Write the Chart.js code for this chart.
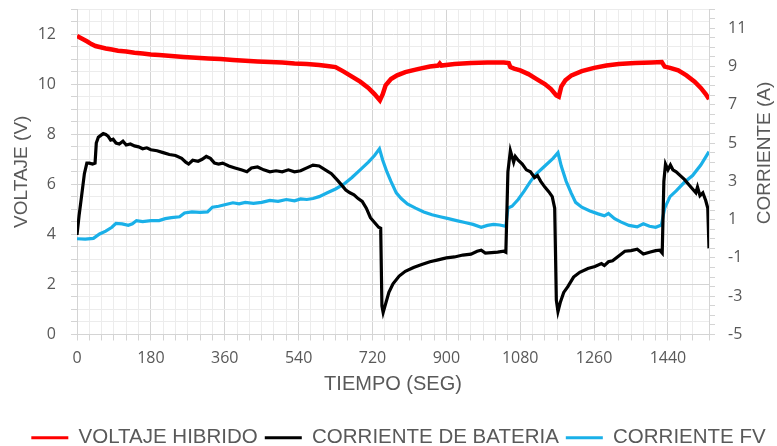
<!DOCTYPE html>
<html>
<head>
<meta charset="utf-8">
<script src="https://cdn.jsdelivr.net/npm/chart.js@4/dist/chart.umd.min.js"></script>
<style>
  body { margin: 0; background: #fff; }
  canvas { display: block; }
</style>
</head>
<body>
<canvas id="myChart" width="777" height="446"></canvas>
<script>
// voltaje hibrido (eje izquierdo, V)
const tRed = [0, 8, 16, 25, 35, 45, 55, 70, 85, 100, 120, 140, 160, 180, 200, 230, 260, 290, 320, 350, 380, 410, 440, 470, 500, 530, 560, 590, 610, 630, 650, 670, 690, 710, 725, 738, 745, 752, 765, 780, 800, 830, 860, 880, 884, 888, 920, 960, 1000, 1040, 1052, 1056, 1065, 1080, 1100, 1120, 1140, 1155, 1168, 1174, 1180, 1190, 1205, 1230, 1260, 1290, 1320, 1360, 1400, 1425, 1432, 1445, 1465, 1485, 1505, 1520, 1532, 1540];
const vRed = [11.92, 11.85, 11.78, 11.7, 11.6, 11.52, 11.48, 11.42, 11.38, 11.33, 11.3, 11.25, 11.22, 11.18, 11.16, 11.12, 11.08, 11.05, 11.02, 11.0, 10.96, 10.93, 10.9, 10.88, 10.86, 10.82, 10.8, 10.76, 10.72, 10.68, 10.5, 10.3, 10.1, 9.85, 9.6, 9.35, 9.6, 9.95, 10.2, 10.35, 10.48, 10.6, 10.7, 10.74, 10.82, 10.74, 10.8, 10.84, 10.86, 10.86, 10.84, 10.68, 10.62, 10.55, 10.4, 10.2, 10.0, 9.8, 9.55, 9.5, 9.9, 10.15, 10.35, 10.52, 10.65, 10.74, 10.8, 10.84, 10.86, 10.88, 10.7, 10.65, 10.55, 10.35, 10.1, 9.85, 9.6, 9.4];

// corriente de bateria (eje derecho, A)
const tBlack = [0, 5, 11, 18, 24, 30, 38, 44, 47, 52, 58, 64, 70, 76, 82, 88, 95, 103, 112, 120, 130, 140, 150, 160, 170, 180, 195, 210, 225, 240, 255, 265, 272, 282, 295, 305, 315, 325, 335, 345, 355, 370, 385, 400, 414, 425, 440, 455, 470, 485, 500, 515, 530, 545, 560, 575, 590, 605, 620, 635, 645, 655, 665, 675, 685, 695, 705, 715, 725, 735, 740, 743, 746, 752, 760, 770, 785, 800, 820, 840, 860, 880, 900, 920, 940, 960, 975, 985, 995, 1010, 1025, 1040, 1045, 1050, 1056, 1060, 1064, 1068, 1075, 1085, 1095, 1105, 1115, 1122, 1130, 1140, 1150, 1158, 1164, 1168, 1172, 1178, 1186, 1196, 1210, 1225, 1245, 1262, 1278, 1285, 1295, 1305, 1320, 1335, 1350, 1365, 1380, 1395, 1410, 1420, 1426, 1430, 1434, 1440, 1446, 1452, 1460, 1470, 1480, 1490, 1500, 1508, 1512, 1518, 1525, 1532, 1537, 1540];
const iBlack = [0.2, 1.2, 2.2, 3.4, 3.95, 3.95, 3.9, 3.95, 5.0, 5.3, 5.4, 5.5, 5.45, 5.35, 5.15, 5.2, 5.0, 4.95, 5.1, 4.9, 4.95, 4.85, 4.8, 4.7, 4.75, 4.65, 4.6, 4.5, 4.4, 4.35, 4.2, 4.0, 3.9, 4.1, 4.05, 4.15, 4.3, 4.2, 3.95, 3.9, 3.95, 3.8, 3.7, 3.6, 3.5, 3.7, 3.75, 3.6, 3.5, 3.55, 3.5, 3.6, 3.5, 3.55, 3.7, 3.85, 3.8, 3.6, 3.4, 3.05, 2.8, 2.55, 2.4, 2.3, 2.1, 1.95, 1.6, 1.1, 0.85, 0.6, 0.55, -3.5, -3.85, -3.4, -2.8, -2.35, -1.95, -1.7, -1.5, -1.35, -1.2, -1.1, -1.0, -0.95, -0.85, -0.8, -0.65, -0.6, -0.75, -0.72, -0.7, -0.65, -0.7, 3.5, 4.6, 4.3, 4.0, 4.3, 4.1, 3.9, 3.6, 3.5, 3.2, 3.3, 3.0, 2.7, 2.45, 2.2, 1.6, -3.2, -3.8, -3.3, -2.8, -2.5, -2.0, -1.75, -1.55, -1.45, -1.3, -1.4, -1.2, -1.15, -0.9, -0.65, -0.62, -0.55, -0.8, -0.7, -0.62, -0.6, -0.75, 3.0, 3.9, 3.6, 3.85, 3.6, 3.5, 3.3, 3.1, 2.85, 2.6, 2.4, 2.7, 2.25, 2.4, 2.0, 1.6, -0.5];

// corriente FV (eje derecho, A)
const tBlue = [0, 20, 40, 55, 70, 85, 95, 110, 125, 135, 145, 160, 180, 200, 215, 230, 250, 262, 280, 300, 318, 330, 345, 365, 380, 395, 410, 430, 450, 470, 490, 510, 530, 545, 560, 575, 590, 610, 630, 650, 670, 690, 710, 725, 737, 745, 755, 765, 778, 790, 805, 825, 845, 865, 885, 905, 925, 945, 965, 985, 1000, 1015, 1030, 1045, 1050, 1060, 1075, 1090, 1105, 1120, 1140, 1160, 1172, 1180, 1192, 1204, 1215, 1230, 1250, 1270, 1285, 1295, 1310, 1325, 1345, 1365, 1380, 1395, 1410, 1424, 1432, 1445, 1460, 1480, 1500, 1520, 1540];
const iBlue = [0.0, -0.02, 0.02, 0.25, 0.4, 0.6, 0.8, 0.78, 0.7, 0.78, 0.95, 0.9, 0.95, 0.95, 1.05, 1.1, 1.15, 1.35, 1.4, 1.38, 1.4, 1.65, 1.7, 1.8, 1.88, 1.82, 1.9, 1.85, 1.9, 2.0, 1.95, 2.05, 1.98, 2.08, 2.05, 2.1, 2.2, 2.4, 2.6, 2.85, 3.2, 3.6, 4.0, 4.35, 4.7, 4.1, 3.5, 3.0, 2.4, 2.1, 1.82, 1.6, 1.4, 1.25, 1.15, 1.05, 0.95, 0.85, 0.75, 0.6, 0.7, 0.75, 0.72, 0.65, 1.6, 1.7, 2.05, 2.5, 3.0, 3.4, 3.8, 4.2, 4.5, 3.8, 3.0, 2.4, 1.9, 1.65, 1.45, 1.3, 1.2, 1.32, 1.05, 0.88, 0.7, 0.62, 0.78, 0.65, 0.6, 0.72, 1.6, 2.2, 2.5, 2.95, 3.3, 3.85, 4.55];

const seriesNames = ['VOLTAJE HIBRIDO', 'CORRIENTE DE BATERIA', 'CORRIENTE FV'];
const leftTitle = 'VOLTAJE (V)';
const rightTitle = 'CORRIENTE (A)';

function pts(ts, vs) {
    return ts.map((t, i) => ({ x: t, y: vs[i] }));
}

const txt = '#595959';
const tickFont = { family: "'Open Sans', sans-serif", size: 16 };
const titleFamily = "'Liberation Sans', Arial, sans-serif";

// titulos de los ejes Y, leidos de abajo hacia arriba
const yTitles = {
    id: 'yTitles',
    afterLayout(chart) {
        // la leyenda va un poco a la derecha
        chart.legend.left += 10;
        chart.legend.right += 10;
    },
    afterDraw(chart) {
        const c = chart.ctx;
        const area = chart.chartArea;
        c.save();
        c.fillStyle = txt;
        c.font = '19px ' + titleFamily;
        c.textAlign = 'center';
        c.textBaseline = 'middle';
        c.translate(22, (area.top + area.bottom) / 2);
        c.rotate(-Math.PI / 2);
        c.fillText(leftTitle, 0, 0);
        c.restore();
        c.save();
        c.fillStyle = txt;
        c.font = '19px ' + titleFamily;
        c.textAlign = 'center';
        c.textBaseline = 'middle';
        c.translate(765, 153);
        c.rotate(-Math.PI / 2);
        c.fillText(rightTitle, 0, 0);
        c.restore();
    }
};

const ctx = document.getElementById('myChart').getContext('2d');
const myChart = new Chart(ctx, {
    type: 'line',
    data: {
        datasets: [{
            label: seriesNames[0],
            data: pts(tRed, vRed),
            borderColor: '#ff0000',
            backgroundColor: '#ff0000',
            borderWidth: 4.5,
            yAxisID: 'y'
        }, {
            label: seriesNames[1],
            data: pts(tBlack, iBlack),
            borderColor: '#000000',
            backgroundColor: '#000000',
            borderWidth: 3.2,
            yAxisID: 'y1'
        }, {
            label: seriesNames[2],
            data: pts(tBlue, iBlue),
            borderColor: '#1ab0e8',
            backgroundColor: '#1ab0e8',
            borderWidth: 3.2,
            yAxisID: 'y1'
        }]
    },
    plugins: [yTitles],
    options: {
        responsive: false,
        animation: false,
        elements: { point: { radius: 0 }, line: { tension: 0 } },
        layout: { padding: { top: 9, bottom: -12, left: 0, right: 0 } },
        plugins: {
            tooltip: { enabled: false },
            legend: {
                position: 'bottom',
                labels: {
                    color: txt,
                    boxWidth: 37,
                    boxHeight: 3,
                    padding: 7,
                    font: { family: titleFamily, size: 20.5, lineHeight: 1 },
                    generateLabels: function(chart) {
                        return Chart.defaults.plugins.legend.labels.generateLabels(chart).map(l => {
                            l.lineWidth = 0;
                            return l;
                        });
                    }
                }
            }
        },
        scales: {
            x: {
                type: 'linear',
                min: 0,
                max: 1540,
                ticks: {
                    stepSize: 30,
                    autoSkip: false,
                    maxRotation: 0,
                    color: txt,
                    font: tickFont,
                    padding: 8,
                    callback: v => (v % 180 === 0 ? v : '')
                },
                grid: {
                    color: c => (c.tick && c.tick.value % 180 === 0 ? '#d4d4d4' : '#ececec'),
                    tickColor: '#d4d4d4',
                    tickLength: 6
                },
                border: { color: '#d4d4d4' },
                title: { display: true, text: 'TIEMPO (SEG)', color: txt, font: { family: titleFamily, size: 20 }, padding: { top: 2, bottom: 24 } },
                afterFit: s => { s.height = 86; s.paddingLeft = 0; s.paddingRight = 0; }
            },
            y: {
                position: 'left',
                min: 0,
                max: 13,
                ticks: {
                    stepSize: 0.5,
                    autoSkip: false,
                    color: txt,
                    font: tickFont,
                    padding: 15,
                    callback: v => (v % 2 === 0 ? v : '')
                },
                grid: {
                    color: c => (c.tick && c.tick.value % 2 === 0 ? '#d4d4d4' : '#ececec'),
                    tickColor: '#d4d4d4',
                    tickLength: 6
                },
                border: { color: '#d4d4d4' },
                afterFit: s => { s.width = 77; s.paddingTop = 0; s.paddingBottom = 0; }
            },
            y1: {
                position: 'right',
                min: -5,
                max: 12,
                ticks: {
                    stepSize: 0.5,
                    autoSkip: false,
                    color: txt,
                    font: tickFont,
                    padding: 13,
                    callback: v => ((v + 5) % 2 === 0 ? v : '')
                },
                grid: {
                    drawOnChartArea: false,
                    tickColor: '#d4d4d4',
                    tickLength: 6
                },
                border: { color: '#d4d4d4' },
                afterFit: s => { s.width = 68; s.paddingTop = 0; s.paddingBottom = 0; }
            }
        }
    }
});
</script>
</body>
</html>
